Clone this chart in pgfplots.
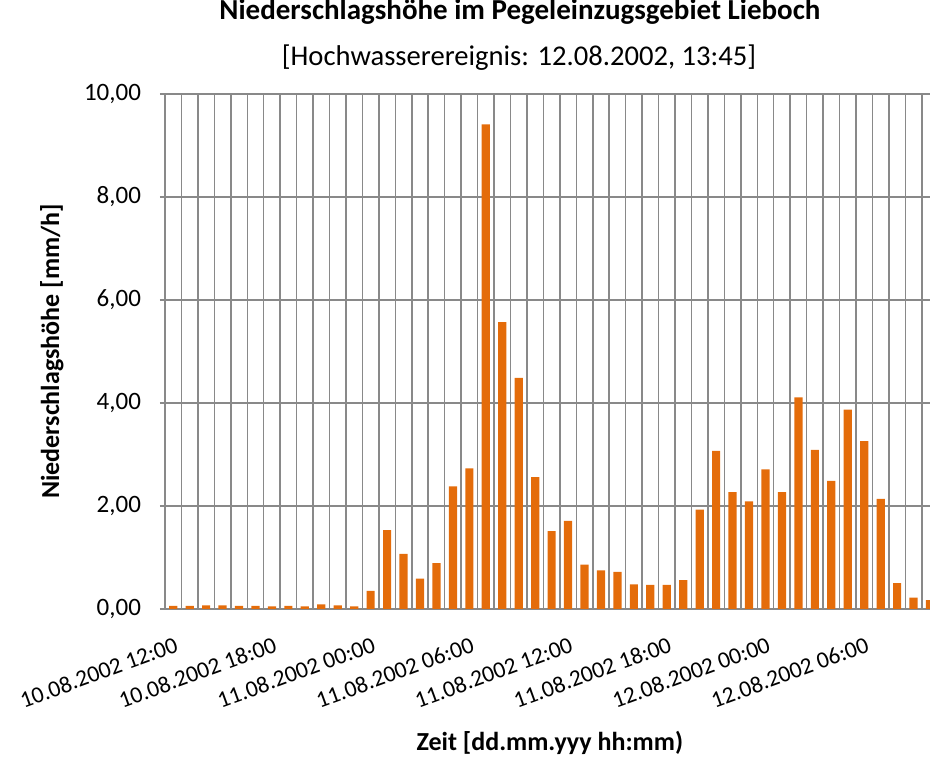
\documentclass[border=0pt]{standalone}
\usepackage{fontspec}
\setmainfont{Carlito}
\usepackage{pgfplots}
\pgfplotsset{compat=1.18}
\definecolor{barorange}{HTML}{E46C0A}
\definecolor{gridgray}{HTML}{898989}
\begin{document}
\begin{tikzpicture}
\begin{axis}[
  at={(0,0)}, anchor=south west,
  scale only axis, width=382.5pt, height=257.5pt,
  xmin=-0.5, xmax=46, ymin=0, ymax=10,
  axis x line*=bottom, axis y line*=left,
  axis line style={gridgray, line width=0.75pt, -},
  ytick={0,2,...,10},
  ymajorgrids, xminorgrids,
  grid style={gridgray, line width=0.75pt},
  minor xtick={-0.5,0.5,...,45.5},
  minor tick length=0pt,
  xtick={0,6,...,42},
  xticklabels={10.08.2002 12:00,10.08.2002 18:00,11.08.2002 00:00,11.08.2002 06:00,11.08.2002 12:00,11.08.2002 18:00,12.08.2002 00:00,12.08.2002 06:00},
  x tick style={draw=none},
  y tick style={gridgray, line width=0.75pt},
  tick align=outside, major tick length=2.5pt,
  ticklabel style={text=black},
  xticklabel style={font=\fontsize{11.7}{14}\selectfont, inner sep=0pt, xshift=0.4pt, yshift=-11pt, rotate=20, anchor=north east},
  yticklabel style={font=\fontsize{12.5}{15}\selectfont, xshift=-6pt},
  y tick label style={/pgf/number format/fixed, /pgf/number format/fixed zerofill, /pgf/number format/precision=2, /pgf/number format/use comma, /pgf/number format/assume math mode=true},
  title={Niederschlagshöhe im Pegeleinzugsgebiet Lieboch},
  title style={at={(axis description cs:0.464,1.1223)}, anchor=base, yshift=0pt, inner sep=0pt, font=\bfseries\fontsize{14.5}{17}\selectfont},
  extra description/.code={\node[font=\fontsize{14.3}{17}\selectfont, anchor=base, inner sep=0pt] at (0.4627,1.055) {[Hochwasserereignis: 12.08.2002, 13:45]};},
  xlabel={Zeit [dd.mm.yyy hh:mm)},
  xlabel style={at={(axis description cs:0.503,-0.2738)}, anchor=base, font=\bfseries\fontsize{13}{16}\selectfont},
  ylabel={Niederschlagshöhe [mm/h]},
  ylabel style={at={(axis description cs:-0.148,0.5)}, anchor=center, font=\bfseries\fontsize{13}{16}\selectfont},
]
\addplot[ybar, bar width=4.1pt, fill=barorange, draw=none] coordinates {
(0,0.06) (1,0.06) (2,0.07) (3,0.07) (4,0.06) (5,0.06) (6,0.05) (7,0.06)
(8,0.05) (9,0.09) (10,0.07) (11,0.05) (12,0.35) (13,1.53) (14,1.07) (15,0.59)
(16,0.89) (17,2.38) (18,2.73) (19,9.41) (20,5.57) (21,4.49) (22,2.56) (23,1.51)
(24,1.71) (25,0.86) (26,0.75) (27,0.72) (28,0.48) (29,0.47) (30,0.47) (31,0.56)
(32,1.93) (33,3.07) (34,2.27) (35,2.09) (36,2.71) (37,2.27) (38,4.11) (39,3.09)
(40,2.49) (41,3.87) (42,3.26) (43,2.14) (44,0.50) (45,0.22) (46,0.17)
};
\end{axis}
\pgfresetboundingbox
\path (-82.5pt,-74.5pt) rectangle (382.5pt,304.5pt);
\end{tikzpicture}
\end{document}
